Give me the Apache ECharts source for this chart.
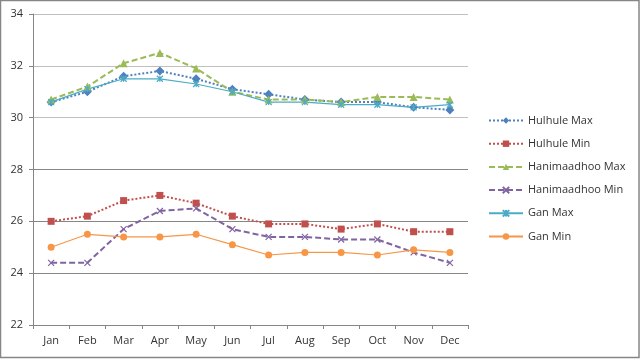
<!DOCTYPE html>
<html>
<head>
<meta charset="utf-8">
<script src="https://cdn.jsdelivr.net/npm/echarts@6/dist/echarts.min.js"></script>
<style>
html,body{margin:0;padding:0;background:#fff;}
#c{width:640px;height:359px;}
</style>
</head>
<body>
<div id="c"></div>
<script>
var months = ['Jan','Feb','Mar','Apr','May','Jun','Jul','Aug','Sep','Oct','Nov','Dec'];
var hulhuleMax = [30.6,31.0,31.6,31.8,31.5,31.1,30.9,30.7,30.6,30.6,30.4,30.3];
var hulhuleMin = [26.0,26.2,26.8,27.0,26.7,26.2,25.9,25.9,25.7,25.9,25.6,25.6];
var hanimaadhooMax = [30.7,31.2,32.1,32.5,31.9,31.0,30.7,30.7,30.6,30.8,30.8,30.7];
var hanimaadhooMin = [24.4,24.4,25.7,26.4,26.5,25.7,25.4,25.4,25.3,25.3,24.8,24.4];
var ganMax = [30.6,31.1,31.5,31.5,31.3,31.0,30.6,30.6,30.5,30.5,30.4,30.5];
var ganMin = [25.0,25.5,25.4,25.4,25.5,25.1,24.7,24.8,24.8,24.7,24.9,24.8];
var yMin = 22, yMax = 34, yStep = 2;

var FONT = '"Open Sans", "Liberation Sans", sans-serif';
var xPath = 'path://M0,0 L10,10 M10,0 L0,10';
var starPath = 'path://M0,0 L10,10 M10,0 L0,10 M5,0 L5,10';

function s(name, data, color, type, width, symbol, size, stroke) {
  return {
    name: name, type: 'line', data: data,
    symbol: symbol, symbolSize: size,
    lineStyle: {color: color, type: type, width: width},
    itemStyle: stroke ? {color: 'rgba(0,0,0,0)', borderColor: color, borderWidth: 1.2} : {color: color, borderWidth: 0},
    emphasis: {disabled: true},
    animation: false
  };
}

var chart = echarts.init(document.getElementById('c'), null, {renderer: 'canvas'});
chart.setOption({
  animation: false,
  backgroundColor: '#fff',
  textStyle: {fontFamily: FONT},
  graphic: [{
    type: 'rect', silent: true,
    shape: {x: 0.5, y: 0.5, width: 638.5, height: 357},
    style: {fill: 'none', stroke: '#868686', lineWidth: 1.5}
  }],
  grid: {left: 33, top: 14, right: 172, bottom: 34, containLabel: false},
  legend: {
    orient: 'vertical', left: 483, top: 110,
    itemWidth: 34, itemHeight: 8, itemGap: 12.2,
    textStyle: {fontFamily: FONT, fontSize: 11, color: '#333'},
    data: ['Hulhule Max','Hulhule Min','Hanimaadhoo Max','Hanimaadhoo Min','Gan Max','Gan Min']
  },
  xAxis: {
    type: 'category', data: months, boundaryGap: true,
    axisLine: {lineStyle: {color: '#868686', width: 1}},
    axisTick: {show: true, alignWithLabel: false, length: 4, lineStyle: {color: '#868686'}},
    axisLabel: {fontFamily: FONT, fontSize: 11, color: '#333', margin: 10},
    splitLine: {show: false}
  },
  yAxis: {
    type: 'value', min: yMin, max: yMax, interval: yStep,
    axisLine: {show: true, lineStyle: {color: '#868686', width: 1}},
    axisTick: {show: true, length: 4, lineStyle: {color: '#868686'}},
    axisLabel: {fontFamily: FONT, fontSize: 11, color: '#333', margin: 10},
    splitLine: {show: true, lineStyle: {color: ['#868686','#868686','#868686','#868686','#c0c0c0','#c0c0c0','#c0c0c0'], width: 1}}
  },
  series: [
    s('Hulhule Max', hulhuleMax, '#4F81BD', 'dotted', 2, 'diamond', 9, false),
    s('Hulhule Min', hulhuleMin, '#C0504D', 'dotted', 2, 'rect', 7, false),
    s('Hanimaadhoo Max', hanimaadhooMax, '#9BBB59', [6,3], 2, 'triangle', 8, false),
    s('Hanimaadhoo Min', hanimaadhooMin, '#8064A2', [6,3], 2, xPath, 6, true),
    s('Gan Max', ganMax, '#4BACC6', 'solid', 1.2, starPath, 6, true),
    s('Gan Min', ganMin, '#F79646', 'solid', 1.2, 'circle', 7, false)
  ]
});
</script>
</body>
</html>
